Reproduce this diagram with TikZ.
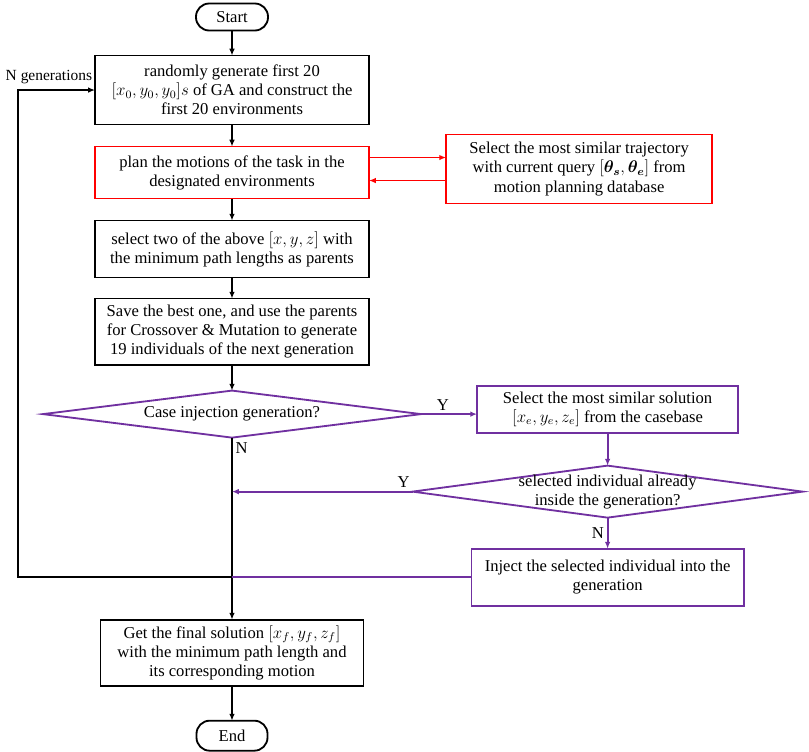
\documentclass[tikz,border=0pt]{standalone}
\usepackage{amsmath,amssymb}
\usepackage{fontspec}
\setmainfont{Liberation Serif}
\usetikzlibrary{arrows.meta,positioning,shapes.geometric}
\definecolor{FlowRed}{HTML}{FF0000}
\definecolor{FlowPurple}{HTML}{7030A0}

\begin{document}
\begin{tikzpicture}[
    x=0.025cm,y=-0.025cm,
    font=\fontsize{11.8}{13.6}\selectfont,
    box/.style={draw,line width=1.3pt,minimum width=6.85cm,align=center,inner sep=2pt,outer sep=0pt},
    redbox/.style={box,draw=FlowRed},
    purplebox/.style={box,draw=FlowPurple},
    term/.style={draw,line width=1.3pt,rounded corners=3.3mm,minimum width=1.8cm,
      minimum height=6.75mm,inner sep=1pt,outer sep=0pt},
    decide/.style={diamond,draw=FlowPurple,line width=1.3pt,inner sep=0pt,outer sep=0pt,aspect=8},
    arr/.style={-{Latex[length=1.7mm,width=1.4mm]},line width=1.3pt},
    redarr/.style={arr,draw=FlowRed},
    purplearr/.style={arr,draw=FlowPurple},
    lbl/.style={inner sep=2pt}
  ]
    \useasboundingbox (0,0) rectangle (809,751);

    % main column
    \node[term] (start) at (232,17) {Start};
    \node[box,minimum height=1.725cm,below=0.625cm of start] (rand)
      {randomly generate first 20\\ $[x_0,y_0,y_0]s$ of GA and construct the\\ first 20 environments};
    \node[redbox,minimum height=1.3cm,below=0.55cm of rand] (plan)
      {plan the motions of the task in the\\ designated environments};
    \node[box,minimum height=1.425cm,below=0.55cm of plan] (parents)
      {select two of the above $[x,y,z]$ with\\ the minimum path lengths as parents};
    \node[box,minimum height=1.65cm,below=0.525cm of parents] (save)
      {Save the best one, and use the parents\\ for Crossover \& Mutation to generate\\ 19 individuals of the next generation};
    \node[decide,minimum width=9.45cm,minimum height=1.175cm,below=0.65cm of save] (d1)
      {Case injection generation?};
    \node[box,minimum width=6.575cm,minimum height=1.65cm,below=4.55cm of d1] (final)
      {Get the final solution $[x_f,y_f,z_f]$\\ with the minimum path length and\\ its corresponding motion};
    \node[term,minimum width=1.775cm,minimum height=7.5mm,below=0.875cm of final] (end) {End};

    % right column
    \node[redbox,minimum width=6.65cm,minimum height=1.725cm,right=1.925cm of plan,yshift=0.09cm] (traj)
      {Select the most similar trajectory\\ with current query $[\boldsymbol{\theta_s},\boldsymbol{\theta_e}]$ from\\ motion planning database};
    \node[purplebox,minimum width=6.525cm,minimum height=1.175cm,right=1.4cm of d1,yshift=0.125cm] (sol)
      {Select the most similar solution\\ $[x_e,y_e,z_e]$ from the casebase};
    \node[decide,minimum width=9.75cm,minimum height=1.3cm,below=0.825cm of sol,
      label={[align=center,lbl]center:selected individual already\\inside the generation?}] (check) {};
    \node[purplebox,minimum width=6.8cm,minimum height=1.425cm,below=0.775cm of check] (inject)
      {Inject the selected individual into the\\ generation};

    \coordinate (jn) at (d1.south |- inject.west);
    \coordinate (lft) at (18,0);

    \draw[arr] (start)--(rand);
    \draw[arr] (rand)--(plan);
    \draw[arr] (plan)--(parents);
    \draw[arr] (parents)--(save);
    \draw[arr] (save)--(d1);
    \draw[arr] (d1.south) -- node[pos=0.06,right,lbl]{N} (final.north);
    \draw[arr] (final)--(end);

    \draw[redarr] ([yshift=3.75mm]plan.east) -- ([yshift=3.75mm]plan.east -| traj.west);
    \draw[redarr] ([yshift=-2mm]plan.east -| traj.west) -- ([yshift=-2mm]plan.east);

    \draw[purplearr] (d1.east) -- node[pos=0.39,above,lbl]{Y} (d1.east -| sol.west);
    \draw[purplearr] (sol)--(check);
    \draw[purplearr] (check.west) -- node[pos=0.05,above,lbl]{Y} (check.west -| d1.south);
    \draw[purplearr] (check) -- node[left,lbl]{N} (inject);
    \draw[line width=1.3pt,FlowPurple] (inject.west) -- (jn);
    \draw[arr] (jn) -- (jn -| lft) |- node[pos=0.5,anchor=south west,xshift=-0.4cm,yshift=0.05cm,lbl,
      font=\fontsize{11}{13}\selectfont]{N generations} (rand.west);
  \end{tikzpicture}
\end{document}
